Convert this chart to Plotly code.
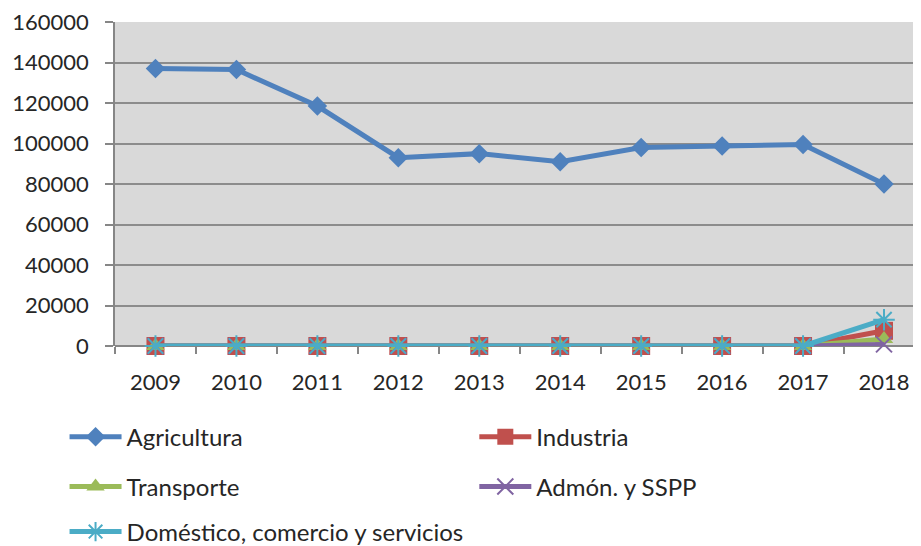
import plotly.graph_objects as go

years = ["2009", "2010", "2011", "2012", "2013", "2014", "2015", "2016", "2017", "2018"]
agricultura = [137000, 136500, 118500, 93000, 95000, 91000, 98000, 98800, 99500, 80000]
industria = [0, 0, 0, 0, 0, 0, 0, 0, 0, 7500]
transporte = [0, 0, 0, 0, 0, 0, 0, 0, 0, 3500]
admon = [0, 0, 0, 0, 0, 0, 0, 0, 0, 800]
domestico = [0, 0, 0, 0, 0, 0, 0, 0, 0, 13000]
y_ticks = [0, 20000, 40000, 60000, 80000, 100000, 120000, 140000, 160000]

FONT = "Lato"
TXT = "#262626"

fig = go.Figure()
fig.add_trace(go.Scatter(x=years, y=agricultura, name="Agricultura", mode="lines+markers",
                         line=dict(color="#4F81BD", width=5), cliponaxis=False,
                         marker=dict(symbol="diamond", size=15, color="#4F81BD"),
                         legend="legend"))
fig.add_trace(go.Scatter(x=years, y=industria, name="Industria", mode="lines+markers",
                         line=dict(color="#C0504D", width=5), cliponaxis=False,
                         marker=dict(symbol="square", size=18, color="#C0504D"),
                         legend="legend2"))
fig.add_trace(go.Scatter(x=years, y=transporte, name="Transporte", mode="lines+markers",
                         line=dict(color="#9BBB59", width=5), cliponaxis=False,
                         marker=dict(symbol="triangle-up", size=16, color="#9BBB59"),
                         legend="legend3"))
fig.add_trace(go.Scatter(x=years, y=admon, name="Admón. y SSPP", mode="lines+markers",
                         line=dict(color="#8064A2", width=5), cliponaxis=False,
                         marker=dict(symbol="x-thin-open", size=16, color="#8064A2",
                                     line=dict(color="#8064A2", width=2)),
                         legend="legend4"))
fig.add_trace(go.Scatter(x=years, y=domestico, name="Doméstico, comercio y servicios", mode="lines+markers",
                         line=dict(color="#4BACC6", width=5), cliponaxis=False,
                         marker=dict(symbol="asterisk-open", size=18, color="#4BACC6",
                                     line=dict(color="#4BACC6", width=2)),
                         legend="legend5"))

legend_common = dict(orientation="h", xanchor="left", yanchor="middle", visible=True,
                     font=dict(family=FONT, size=24, color=TXT),
                     bgcolor="rgba(0,0,0,0)", itemwidth=52)

col1 = -0.0626
col2 = 0.4458
row1, row2, row3 = -0.281, -0.435, -0.574

fig.update_layout(
    width=913, height=538,
    margin=dict(l=106.5, r=0, t=14, b=200, autoexpand=False),
    showlegend=True,
    paper_bgcolor="white",
    plot_bgcolor="#D9D9D9",
    font=dict(family=FONT, size=22, color=TXT),
    legend=dict(x=col1, y=row1, **legend_common),
    legend2=dict(x=col2, y=row1, **legend_common),
    legend3=dict(x=col1, y=row2, **legend_common),
    legend4=dict(x=col2, y=row2, **legend_common),
    legend5=dict(x=col1, y=row3, **legend_common),
    xaxis=dict(type="category", range=[-0.5, 9.457], tickson="boundaries",
               ticks="outside", ticklen=7, tickcolor="#868686", tickwidth=1.5,
               showgrid=False, showline=False, zeroline=False,
               ticklabelstandoff=21, ticklabeloverflow="allow",
               tickfont=dict(family=FONT, size=22, color=TXT)),
    yaxis=dict(range=[0, 160000], tickvals=y_ticks, tickformat="d",
               ticks="outside", ticklen=8, tickcolor="#868686", tickwidth=1.5,
               showgrid=True, gridcolor="#8C8C8C", gridwidth=1.5,
               showline=True, linecolor="#868686", linewidth=1.5,
               zeroline=True, zerolinecolor="#868686", zerolinewidth=1.5,
               ticklabelstandoff=12, ticklabeloverflow="allow",
               tickfont=dict(family=FONT, size=22, color=TXT)),
)

fig.write_html("out.html")
